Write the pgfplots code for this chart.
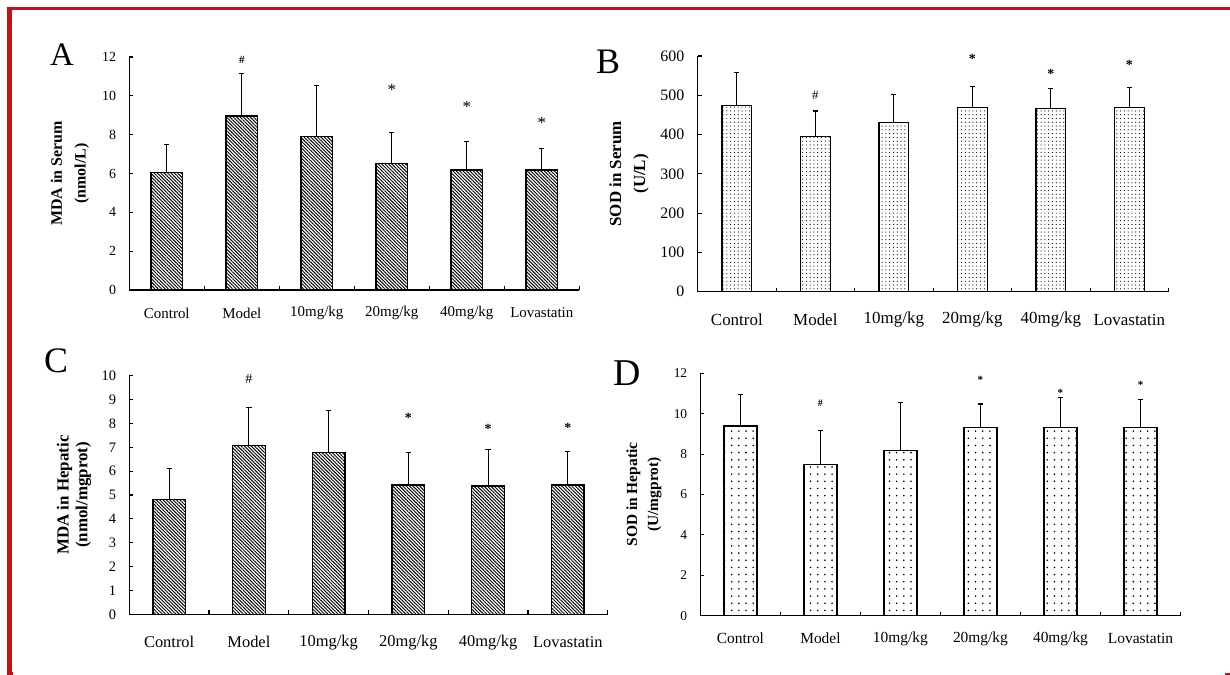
\documentclass[border=0pt]{standalone}
\usepackage{fontspec}
\setmainfont{Liberation Serif}
\usepackage{pgfplots}
\pgfplotsset{compat=1.18}
\usetikzlibrary{patterns.meta}

\definecolor{framered}{RGB}{198,18,22}

\pgfplotsset{
  panel/.style={
    scale only axis,
    axis lines*=left,
    xmin=0, xmax=6, ymin=0,
    enlargelimits=false,
    tick align=inside,
    major tick length=4bp,
    axis line style={line width=1.3bp,black},
    tick style={line width=1.1bp, black},
    xtick={1,2,3,4,5,6},
    xticklabels={},
    extra x ticks={0.5,1.5,2.5,3.5,4.5,5.5},
    extra x tick labels={Control,Model,10mg/kg,20mg/kg,40mg/kg,Lovastatin},
    extra x tick style={major tick length=0pt, tick style={draw=none}},
    /pgf/number format/assume math mode=true,
    yticklabel style={anchor=east, inner sep=0pt, xshift=-13bp},
    clip=false,
  },
  hatchbar/.style={ybar, bar width=0.42, bar shift=0pt, draw=black, line width=1.4bp,
    pattern={Lines[angle=-45,distance=2.4pt,line width=0.95pt]},
    error bars/y dir=plus, error bars/y explicit,
    error bars/error bar style={line width=1.1bp, black, solid},
    error bars/error mark options={rotate=90, mark size=2.6bp, line width=1.1bp, black}},
  marks/.style={draw=none, mark=none, nodes near coords, point meta=explicit symbolic,
    nodes near coords style={anchor=center, text=black}},
}

\begin{document}
\begin{tikzpicture}
\useasboundingbox (0,0) rectangle (1230bp,675bp);

% frame
\draw[framered, line width=3bp] (7bp,666.5bp) -- (1230bp,666.5bp);
\draw[framered, line width=4.5bp] (9.7bp,668bp) -- (9.7bp,1.2bp) -- (13bp,1.2bp);
\draw[framered, line width=2.5bp] (1225bp,1.2bp) -- (1230bp,1.2bp);

% ---------------- A ----------------
\begin{axis}[panel, at={(129.3bp,385bp)}, anchor=south west,
  width=450bp, height=233bp, ymax=12, ytick={0,2,...,12},
  yticklabel style={font=\fontsize{14}{14}\selectfont},
  xticklabel style={anchor=center, yshift=-23bp, font=\fontsize{15}{15}\selectfont},
  ylabel={MDA in Serum\\(nmol/L)},
  ylabel style={at={(axis description cs:-0.132,0.5)}, anchor=center, align=center,
    font=\bfseries\fontsize{16}{24}\selectfont}]
\addplot[hatchbar] coordinates {
 (0.5,6.05) +- (0,1.45)
 (1.5,8.97) +- (0,2.18)
 (2.5,7.89) +- (0,2.62)
 (3.5,6.52) +- (0,1.59)
 (4.5,6.17) +- (0,1.50)
 (5.5,6.17) +- (0,1.10)};
\addplot[marks, nodes near coords style={font=\bfseries\fontsize{11}{11}\selectfont}] coordinates {(1.5,11.83) [\#]};
\addplot[marks, nodes near coords style={font=\fontsize{17}{17}\selectfont, yshift=-3bp}] coordinates {
 (3.5,10.46) [*] (4.5,9.57) [*] (5.5,8.78) [*]};
\end{axis}
\node[font=\fontsize{33}{33}\selectfont] at (62bp,620bp) {A};

% ---------------- B ----------------
\begin{axis}[panel, at={(697.6bp,383.3bp)}, anchor=south west,
  width=471bp, height=235.7bp, ymax=600, ytick={0,100,...,600},
  yticklabel style={font=\fontsize{16}{16}\selectfont},
  xticklabel style={anchor=center, yshift=-28bp, font=\fontsize{17}{17}\selectfont},
  ylabel={SOD in Serum\\(U/L)},
  ylabel style={at={(axis description cs:-0.1457,0.5)}, anchor=center, align=center,
    font=\bfseries\fontsize{17}{24}\selectfont}]
\addplot[hatchbar, bar width=0.38, pattern={Dots[distance=3.8pt,radius=0.6pt]}] coordinates {
 (0.5,474.5) +- (0,84.1)
 (1.5,394.7) +- (0,65.3)
 (2.5,430.4) +- (0,71.3)
 (3.5,468.6) +- (0,53.4)
 (4.5,466.0) +- (0,51.0)
 (5.5,468.6) +- (0,50.9)};
\addplot[marks, nodes near coords style={font=\fontsize{13}{13}\selectfont}] coordinates {(1.5,500.8) [\#]};
\addplot[marks, nodes near coords style={font=\bfseries\fontsize{14}{14}\selectfont, yshift=-2.5bp}] coordinates {
 (3.5,598) [*] (4.5,560) [*] (5.5,584) [*]};
\end{axis}
\node[font=\fontsize{36}{36}\selectfont] at (608bp,613bp) {B};

% ---------------- C ----------------
\begin{axis}[panel, at={(129.3bp,60.7bp)}, anchor=south west,
  width=478.4bp, height=238.6bp, ymax=10, ytick={0,1,...,10},
  yticklabel style={font=\fontsize{14.5}{14.5}\selectfont},
  xticklabel style={anchor=center, yshift=-28bp, font=\fontsize{16.5}{16.5}\selectfont},
  ylabel={MDA in Hepatic\\(nmol/mgprot)},
  ylabel style={at={(axis description cs:-0.1156,0.5)}, anchor=center, align=center,
    font=\bfseries\fontsize{17}{19}\selectfont}]
\addplot[hatchbar, bar width=0.41] coordinates {
 (0.5,4.82) +- (0,1.30)
 (1.5,7.08) +- (0,1.58)
 (2.5,6.79) +- (0,1.77)
 (3.5,5.42) +- (0,1.37)
 (4.5,5.38) +- (0,1.52)
 (5.5,5.42) +- (0,1.42)};
\addplot[marks, nodes near coords style={font=\fontsize{14}{14}\selectfont}] coordinates {(1.5,9.85) [\#]};
\addplot[marks, nodes near coords style={font=\bfseries\fontsize{14}{14}\selectfont, yshift=-2.5bp}] coordinates {
 (3.5,8.32) [*] (4.5,7.89) [*] (5.5,7.93) [*]};
\end{axis}
\node[font=\fontsize{36}{36}\selectfont] at (56bp,314bp) {C};

% ---------------- D ----------------
\begin{axis}[panel, at={(700.4bp,59.3bp)}, anchor=south west,
  width=480.1bp, height=242.4bp, ymax=12, ytick={0,2,...,12},
  yticklabel style={font=\fontsize{13.5}{13.5}\selectfont},
  xticklabel style={anchor=center, yshift=-23bp, font=\fontsize{15.5}{15.5}\selectfont},
  ylabel={SOD in Hepatic\\(U/mgprot)},
  ylabel style={at={(axis description cs:-0.1175,0.5)}, anchor=center, align=center,
    font=\bfseries\fontsize{15.5}{21}\selectfont}]
\addplot[hatchbar, bar width=0.41, pattern={Dots[distance=7.2pt,radius=0.9pt]}] coordinates {
 (0.5,9.39) +- (0,1.57)
 (1.5,7.48) +- (0,1.69)
 (2.5,8.18) +- (0,2.38)
 (3.5,9.32) +- (0,1.16)
 (4.5,9.32) +- (0,1.46)
 (5.5,9.32) +- (0,1.39)};
\addplot[marks, nodes near coords style={font=\bfseries\fontsize{10}{10}\selectfont}] coordinates {(1.5,10.5) [\#]};
\addplot[marks, nodes near coords style={font=\bfseries\fontsize{11}{11}\selectfont, yshift=-2bp}] coordinates {
 (3.5,11.75) [*] (4.5,11.14) [*] (5.5,11.53) [*]};
\end{axis}
\node[font=\fontsize{38}{38}\selectfont] at (627bp,302bp) {D};
\end{tikzpicture}
\end{document}
